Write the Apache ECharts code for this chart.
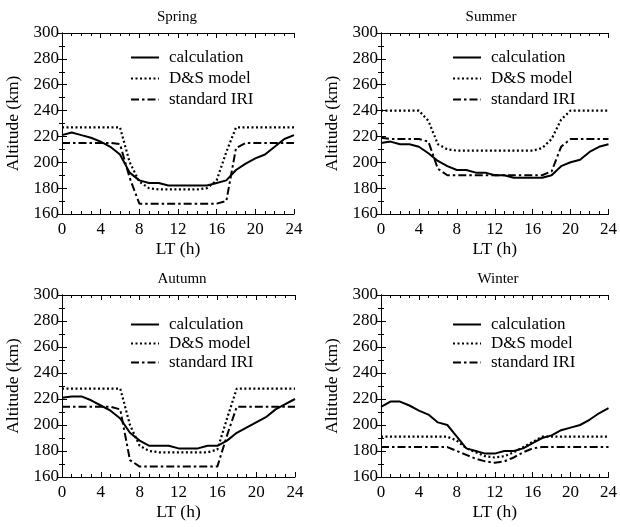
<!DOCTYPE html>
<html>
<head>
<meta charset="utf-8">
<script src="https://cdn.jsdelivr.net/npm/echarts@6/dist/echarts.min.js"></script>
<style>html,body{margin:0;padding:0;background:#fff}#c{width:620px;height:527px}</style>
</head>
<body>
<div id="c"></div>
<script>
const hours = [0,1,2,3,4,5,6,7,8,9,10,11,12,13,14,15,16,17,18,19,20,21,22,23,24];
const seasons = ['Spring','Summer','Autumn','Winter'];
const seriesNames = ['calculation','D&S model','standard IRI'];
const yTicks = [160,180,200,220,240,260,280,300];
const xTicks = [0,4,8,12,16,20,24];

const springCalc = [221,223,221,219,216,212,206,192,186,184,184,182,182,182,182,182,184,186,194,199,203,206,212,218,221];
const springDS   = [227,227,227,227,227,227,227,200,185,180,179,179,179,179,179,180,186,208,227,227,227,227,227,227,227];
const springIRI  = [215,215,215,215,215,215,214,188,168,168,168,168,168,168,168,168,168,170,211,215,215,215,215,215,215];

const summerCalc = [215,216,214,214,212,207,201,197,194,194,192,192,190,190,188,188,188,188,190,197,200,202,208,212,214];
const summerDS   = [240,240,240,240,240,232,214,210,209,209,209,209,209,209,209,209,209,211,218,233,240,240,240,240,240];
const summerIRI  = [219,218,218,218,218,216,195,190,190,190,190,190,190,190,190,190,190,190,193,212,218,218,218,218,218];

const autumnCalc = [221,222,222,219,215,211,205,194,188,184,184,184,182,182,182,184,184,188,194,198,202,206,212,216,220];
const autumnDS   = [228,228,228,228,228,228,228,200,184,180,179,179,179,179,179,179,181,205,228,228,228,228,228,228,228];
const autumnIRI  = [214,214,214,214,214,214,212,173,168,168,168,168,168,168,168,168,168,192,214,214,214,214,214,214,214];

const winterCalc = [214,218,218,215,211,208,202,200,191,182,180,178,178,180,180,182,186,190,192,196,198,200,204,209,213];
const winterDS   = [191,191,191,191,191,191,191,191,188,182,179,176,175,176,179,183,187,191,191,191,191,191,191,191,191];
const winterIRI  = [183,183,183,183,183,183,183,183,180,177,174,172,171,172,175,179,182,183,183,183,183,183,183,183,183];

const allData = [
  [springCalc, springDS, springIRI],
  [summerCalc, summerDS, summerIRI],
  [autumnCalc, autumnDS, autumnIRI],
  [winterCalc, winterDS, winterIRI]
];

const FONT = "'Liberation Serif','Times New Roman',serif";
const grids = [
  {left:62, top:33, width:232, height:181},
  {left:381, top:33, width:231, height:181},
  {left:62, top:295, width:233, height:182},
  {left:381, top:295, width:231, height:182}
];
const legendPos = [
  {left:125, top:44, gap:4},
  {left:447, top:44, gap:4},
  {left:125, top:311, gap:2},
  {left:447, top:311, gap:2}
];
const titlePos = [
  {x:172, y:5}, {x:486, y:5}, {x:177, y:267}, {x:493, y:267}
];
const styles = [
  {type:'solid', width:2},
  {type:[2,2.5], width:2.2},
  {type:[8,3,2.5,3], width:2}
];

const xAxis = [], yAxis = [], series = [], legend = [], title = [];
grids.forEach((g, i) => {
  const tickCommon = {inside:true, length:5, lineStyle:{color:'#000', width:1}};
  const minorCommon = {show:true, splitNumber:4, length:3, lineStyle:{color:'#000', width:1}};
  xAxis.push({
    type:'value', gridIndex:i, min:xTicks[0], max:xTicks[xTicks.length-1], interval:4,
    name:'LT (h)', nameLocation:'middle', nameGap:26,
    nameTextStyle:{fontFamily:FONT, fontSize:17.5, color:'#000'},
    axisLine:{lineStyle:{color:'#000', width:1}},
    axisTick:tickCommon, minorTick:minorCommon,
    splitLine:{show:false},
    axisLabel:{fontFamily:FONT, fontSize:17, color:'#000', margin:7}
  });
  xAxis.push({
    type:'value', gridIndex:i, position:'top', min:0, max:24, interval:4,
    axisLine:{lineStyle:{color:'#000', width:1}},
    axisTick:tickCommon, minorTick:minorCommon,
    splitLine:{show:false}, axisLabel:{show:false}
  });
  const yMinor = {show:true, splitNumber:2, length:3, lineStyle:{color:'#000', width:1}};
  yAxis.push({
    type:'value', gridIndex:i, min:yTicks[0], max:yTicks[yTicks.length-1], interval:20,
    name:'Altitude (km)', nameLocation:'middle', nameGap:40, nameRotate:90,
    nameTextStyle:{fontFamily:FONT, fontSize:17.5, color:'#000'},
    axisLine:{show:true, lineStyle:{color:'#000', width:1}},
    axisTick:{show:true, inside:true, length:5, lineStyle:{color:'#000', width:1}}, minorTick:yMinor,
    splitLine:{show:false},
    axisLabel:{fontFamily:FONT, fontSize:17, color:'#000', margin:3}
  });
  yAxis.push({
    type:'value', gridIndex:i, position:'right', min:160, max:300, interval:20,
    axisLine:{show:true, lineStyle:{color:'#000', width:1}},
    axisTick:{show:true, inside:true, length:5, lineStyle:{color:'#000', width:1}}, minorTick:yMinor,
    splitLine:{show:false}, axisLabel:{show:false}
  });
  allData[i].forEach((arr, k) => {
    series.push({
      name:seriesNames[k], type:'line', xAxisIndex:2*i, yAxisIndex:2*i,
      data: hours.map((h, j) => [h, arr[j]]),
      symbol:'none', showSymbol:false, silent:true, animation:false,
      lineStyle:{color:'#000', width:styles[k].width, type:styles[k].type},
      itemStyle:{color:'#000'}, z: 3 - k
    });
  });
  const lp = legendPos[i];
  legend.push({
    data:seriesNames, orient:'vertical', left:lp.left, top:lp.top,
    itemWidth:28, itemHeight:14, itemGap:lp.gap,
    itemStyle:{color:'rgba(0,0,0,0)', borderColor:'rgba(0,0,0,0)', borderWidth:0, opacity:0},
    textStyle:{fontFamily:FONT, fontSize:17, color:'#000', padding:[0,0,0,5]},
    selectedMode:false
  });
  title.push({
    text:seasons[i], left:titlePos[i].x, top:titlePos[i].y, textAlign:'center',
    textStyle:{fontFamily:FONT, fontSize:15, fontWeight:'normal', color:'#000'}
  });
});

const chart = echarts.init(document.getElementById('c'), null, {renderer:'canvas'});
chart.setOption({
  animation:false,
  backgroundColor:'#fff',
  title, legend, grid:grids.map(g => Object.assign({containLabel:false}, g)),
  xAxis, yAxis, series
});
</script>
</body>
</html>
